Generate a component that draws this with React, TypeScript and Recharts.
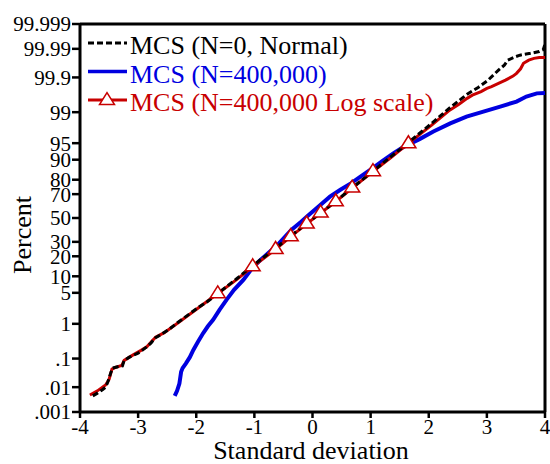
import React from "react";
import { ComposedChart, Line, XAxis, YAxis, ReferenceLine, Legend } from "recharts";

// Percent tick labels and their normal scores (probability-scale axis)
const percentLabels = [".001", ".01", ".1", "1", "5", "10", "20", "30", "50", "70", "80", "90", "95", "99", "99.9", "99.99", "99.999"];
const percentZ = [-4.2649, -3.719, -3.0902, -2.3263, -1.6449, -1.2816, -0.8416, -0.5244, 0, 0.5244, 0.8416, 1.2816, 1.6449, 2.3263, 3.0902, 3.719, 4.2649];
const sdTicks = [-4, -3, -2, -1, 0, 1, 2, 3, 4];

const seriesNames = ["MCS (N=0, Normal)", "MCS (N=400,000)", "MCS (N=400,000 Log scale)"];
const seriesColors = ["#000000", "#0000e0", "#c80000"];

// sd = standard deviation, z = normal score of cumulative percent
const normalCurve = [
  { sd: -3.78, z: -3.91 }, { sd: -3.7, z: -3.85 }, { sd: -3.62, z: -3.78 }, { sd: -3.56, z: -3.72 },
  { sd: -3.52, z: -3.6 }, { sd: -3.47, z: -3.4 }, { sd: -3.44, z: -3.3 }, { sd: -3.35, z: -3.27 },
  { sd: -3.27, z: -3.25 }, { sd: -3.24, z: -3.13 }, { sd: -3.15, z: -3.06 }, { sd: -3.0, z: -2.97 },
  { sd: -2.92, z: -2.9 }, { sd: -2.85, z: -2.83 }, { sd: -2.78, z: -2.75 }, { sd: -2.7, z: -2.63 },
  { sd: -2.6, z: -2.56 }, { sd: -2.45, z: -2.43 }, { sd: -2.3, z: -2.28 }, { sd: -2.15, z: -2.14 },
  { sd: -1.99, z: -1.99 }, { sd: -1.8, z: -1.83 }, { sd: -1.6, z: -1.63 }, { sd: -1.3, z: -1.33 },
  { sd: -1.03, z: -1.05 }, { sd: -0.64, z: -0.67 }, { sd: -0.38, z: -0.4 }, { sd: -0.1, z: -0.12 },
  { sd: 0.14, z: 0.11 }, { sd: 0.4, z: 0.37 }, { sd: 0.68, z: 0.66 }, { sd: 1.04, z: 1.03 },
  { sd: 1.35, z: 1.35 }, { sd: 1.65, z: 1.66 }, { sd: 2.05, z: 2.08 }, { sd: 2.36, z: 2.42 },
  { sd: 2.5, z: 2.56 }, { sd: 2.66, z: 2.72 }, { sd: 2.85, z: 2.87 }, { sd: 3.02, z: 3.03 },
  { sd: 3.2, z: 3.25 }, { sd: 3.3, z: 3.36 }, { sd: 3.36, z: 3.47 }, { sd: 3.5, z: 3.55 },
  { sd: 3.57, z: 3.58 }, { sd: 3.75, z: 3.62 }, { sd: 3.9, z: 3.66 }, { sd: 3.97, z: 3.7 },
  { sd: 4.0, z: 3.82 },
];

const sampledCurve = [
  { sd: -2.37, z: -3.91 }, { sd: -2.33, z: -3.8 }, { sd: -2.29, z: -3.64 }, { sd: -2.26, z: -3.38 },
  { sd: -2.235, z: -3.3 }, { sd: -2.18, z: -3.2 }, { sd: -2.11, z: -3.06 }, { sd: -2.05, z: -2.9 },
  { sd: -1.97, z: -2.72 }, { sd: -1.88, z: -2.53 }, { sd: -1.8, z: -2.38 }, { sd: -1.71, z: -2.24 },
  { sd: -1.6, z: -2.02 }, { sd: -1.48, z: -1.8 }, { sd: -1.35, z: -1.58 }, { sd: -1.19, z: -1.36 },
  { sd: -1.03, z: -1.09 }, { sd: -0.9, z: -0.93 }, { sd: -0.75, z: -0.76 }, { sd: -0.6, z: -0.59 },
  { sd: -0.45, z: -0.38 }, { sd: -0.36, z: -0.26 }, { sd: -0.2, z: -0.09 }, { sd: -0.06, z: 0.07 },
  { sd: 0.1, z: 0.25 }, { sd: 0.3, z: 0.47 }, { sd: 0.48, z: 0.62 }, { sd: 0.66, z: 0.76 },
  { sd: 0.85, z: 0.93 }, { sd: 1.03, z: 1.09 }, { sd: 1.2, z: 1.25 }, { sd: 1.39, z: 1.42 },
  { sd: 1.55, z: 1.55 }, { sd: 1.69, z: 1.64 }, { sd: 1.85, z: 1.74 }, { sd: 2.08, z: 1.9 },
  { sd: 2.37, z: 2.08 }, { sd: 2.65, z: 2.23 }, { sd: 2.94, z: 2.34 }, { sd: 3.23, z: 2.45 },
  { sd: 3.51, z: 2.56 }, { sd: 3.68, z: 2.67 }, { sd: 3.86, z: 2.74 }, { sd: 4.0, z: 2.75 },
];

const logCurve = [
  { sd: -3.83, z: -3.89 }, { sd: -3.7, z: -3.8 }, { sd: -3.56, z: -3.67 }, { sd: -3.5, z: -3.55 },
  { sd: -3.45, z: -3.32 }, { sd: -3.38, z: -3.28 }, { sd: -3.28, z: -3.24 }, { sd: -3.24, z: -3.13 },
  { sd: -3.1, z: -3.02 }, { sd: -2.95, z: -2.91 }, { sd: -2.85, z: -2.83 }, { sd: -2.8, z: -2.76 },
  { sd: -2.7, z: -2.62 }, { sd: -2.55, z: -2.52 }, { sd: -2.3, z: -2.29 }, { sd: -1.99, z: -2.0 },
  { sd: -1.63, z: -1.66 }, { sd: -1.3, z: -1.35 }, { sd: -1.03, z: -1.07 }, { sd: -0.635, z: -0.69 },
  { sd: -0.375, z: -0.41 }, { sd: -0.1, z: -0.13 }, { sd: 0.14, z: 0.11 }, { sd: 0.4, z: 0.36 },
  { sd: 0.683, z: 0.66 }, { sd: 1.04, z: 1.02 }, { sd: 1.35, z: 1.33 }, { sd: 1.65, z: 1.64 },
  { sd: 2.05, z: 2.04 }, { sd: 2.36, z: 2.37 }, { sd: 2.52, z: 2.5 }, { sd: 2.66, z: 2.63 },
  { sd: 2.75, z: 2.7 }, { sd: 2.9, z: 2.78 }, { sd: 3.0, z: 2.85 }, { sd: 3.08, z: 2.89 },
  { sd: 3.2, z: 2.96 }, { sd: 3.32, z: 3.03 }, { sd: 3.45, z: 3.12 }, { sd: 3.51, z: 3.18 },
  { sd: 3.58, z: 3.28 }, { sd: 3.63, z: 3.4 }, { sd: 3.72, z: 3.47 }, { sd: 3.81, z: 3.51 },
  { sd: 3.9, z: 3.53 }, { sd: 4.0, z: 3.53 },
];

// triangle markers on the log-scale curve (5%, 15%, ..., 95%)
const logMarkers = [
  { sd: -1.63, z: -1.655 }, { sd: -1.03, z: -1.06 }, { sd: -0.635, z: -0.68 }, { sd: -0.375, z: -0.4 },
  { sd: -0.1, z: -0.12 }, { sd: 0.14, z: 0.12 }, { sd: 0.4, z: 0.37 }, { sd: 0.683, z: 0.67 },
  { sd: 1.04, z: 1.03 }, { sd: 1.65, z: 1.645 },
];

const FONT = "Liberation Serif";
const textStyle = (size: number, color = "#000") => ({ fontFamily: FONT, fontSize: size, fill: color });

const Triangle = (props: any) => {
  const { cx, cy } = props;
  if (cx == null || cy == null) return null;
  const h = 12;
  const w = 15;
  const pts = `${cx},${cy - h * 0.62} ${cx - w / 2},${cy + h * 0.38} ${cx + w / 2},${cy + h * 0.38}`;
  return <polygon points={pts} fill="#ffffff" stroke="#c80000" strokeWidth={1.5} />;
};

const YTick = (props: any) => {
  const { x, y, payload } = props;
  const idx = percentZ.indexOf(payload.value);
  return (
    <text x={x} y={y} dy="0.355em" textAnchor="end" fontFamily={FONT} style={textStyle(21)}>
      {percentLabels[idx] ?? ""}
    </text>
  );
};

const XTick = (props: any) => {
  const { x, y, payload } = props;
  return (
    <text x={x} y={y} dy="0.71em" textAnchor="middle" fontFamily={FONT} style={textStyle(21)}>
      {String(payload.value)}
    </text>
  );
};

const LegendBox = () => {
  const rows = [
    { base: 54, dash: "6 3", tri: false },
    { base: 82.5, dash: undefined, tri: false },
    { base: 111, dash: undefined, tri: true },
  ];
  return (
    <svg width={450} height={125} style={{ display: "block" }}>
      {rows.map((r, i) => {
        const ly = r.base - 11;
        return (
          <g key={i}>
            <line x1={88} x2={127} y1={ly} y2={ly} stroke={seriesColors[i]} strokeWidth={i === 1 ? 3.5 : 3} strokeDasharray={r.dash} />
            {r.tri && <Triangle cx={107} cy={ly} />}
            <text x={130} y={r.base} fontFamily={FONT} style={textStyle(26, seriesColors[i])}>
              {seriesNames[i]}
            </text>
          </g>
        );
      })}
    </svg>
  );
};

export default function App() {
  return (
    <div style={{ position: "absolute", left: 0, top: 0, width: 550, height: 464, background: "#fff", fontFamily: FONT }}>
      <ComposedChart width={550} height={464} margin={{ top: 24, right: 5, bottom: 0, left: 0 }}>
        <XAxis
          type="number"
          dataKey="sd"
          domain={[-4, 4]}
          ticks={sdTicks}
          interval={0}
          allowDataOverflow
          height={52}
          stroke="#000"
          axisLine={{ stroke: "#000", strokeWidth: 3 }}
          tickLine={{ stroke: "#000", strokeWidth: 2.5 }}
          tickSize={6}
          tickMargin={1}
          tick={<XTick />}
          label={() => (
            <text x={311} y={459} textAnchor="middle" fontFamily={FONT} style={textStyle(26)}>
              Standard deviation
            </text>
          )}
        />
        <YAxis
          type="number"
          dataKey="z"
          domain={[-4.2649, 4.2649]}
          ticks={percentZ}
          interval={0}
          allowDataOverflow
          width={80}
          axisLine={{ stroke: "#000", strokeWidth: 3 }}
          tickLine={{ stroke: "#000", strokeWidth: 2.5 }}
          tickSize={8}
          tickMargin={1}
          tick={<YTick />}
          label={() => (
            <text x={31} y={235} transform="rotate(-90 31 235)" textAnchor="middle" fontFamily={FONT} style={textStyle(26)}>
              Percent
            </text>
          )}
        />
        <ReferenceLine x={4} stroke="#000" strokeWidth={3} />
        <ReferenceLine y={4.2649} stroke="#000" strokeWidth={3} />
        <Legend
          layout="vertical"
          align="center"
          verticalAlign="middle"
          wrapperStyle={{ position: "absolute", top: 0, left: 0, width: 450, height: 125 }}
          content={() => <LegendBox />}
        />
        <Line data={sampledCurve} dataKey="z" name={seriesNames[1]} stroke={seriesColors[1]} strokeWidth={4} dot={false} isAnimationActive={false} type="linear" />
        <Line data={logCurve} dataKey="z" name={seriesNames[2]} stroke={seriesColors[2]} strokeWidth={3} dot={false} isAnimationActive={false} type="linear" />
        <Line data={normalCurve} dataKey="z" name={seriesNames[0]} stroke={seriesColors[0]} strokeWidth={3} strokeDasharray="6 3" dot={false} isAnimationActive={false} type="linear" />
        <Line data={logMarkers} dataKey="z" name="markers" stroke="none" legendType="none" dot={<Triangle />} isAnimationActive={false} type="linear" />
      </ComposedChart>
    </div>
  );
}
